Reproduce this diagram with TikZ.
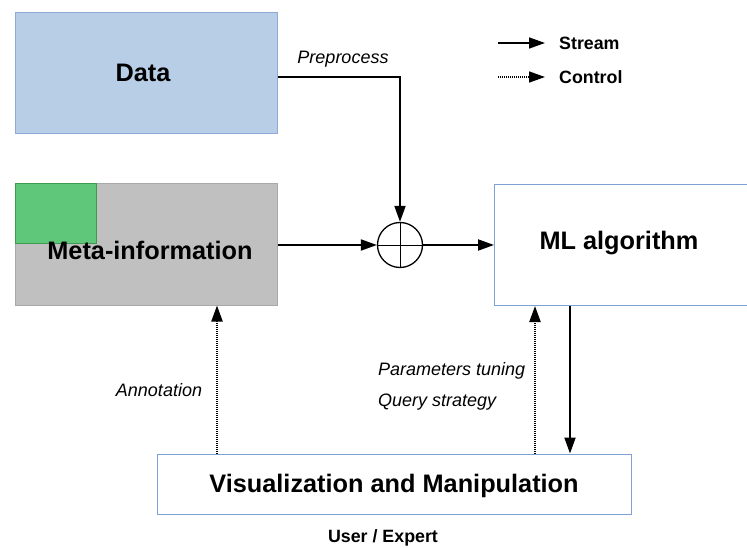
\documentclass[tikz,border=0pt]{standalone}
\usepackage{fontspec}
\setmainfont{Liberation Sans}
\usetikzlibrary{arrows.meta}
\definecolor{datafill}{HTML}{B8CEE6}
\definecolor{databorder}{HTML}{8FAAD4}
\definecolor{metafill}{HTML}{C0C0C0}
\definecolor{metaborder}{HTML}{A8A8A8}
\definecolor{greenfill}{HTML}{5EC77A}
\definecolor{greenborder}{HTML}{3F9A50}
\definecolor{boxborder}{HTML}{7FA0D4}
\tikzset{
  title/.style={font=\bfseries\fontsize{25.3}{29}\selectfont},
  box/.style={draw, line width=1pt, inner sep=0pt, minimum width=262pt, minimum height=121pt, title},
  stream/.style={line width=2pt, -{Triangle[length=16pt,width=11pt]}},
  control/.style={line width=2.2pt, dash pattern=on 1pt off 1pt, -{Triangle[length=16pt,width=11pt]}},
  lab/.style={font=\itshape\fontsize{18}{21}\selectfont, inner sep=0pt},
  leg/.style={font=\bfseries\fontsize{17.8}{21}\selectfont, inner sep=0pt, anchor=west},
}
\begin{document}
\begin{tikzpicture}[x=1pt,y=-1pt]
\useasboundingbox (0,0) rectangle (747,548);
\begin{scope}
\clip (0,0) rectangle (747,548);
% boxes
\node[box, fill=datafill, draw=databorder] (data) at (146,73.5) {};
\node[title] (datatxt) at (143,73) {Data};
\node[box, fill=metafill, draw=metaborder] (meta) at (146,244.5) {};
\node[draw=greenborder, fill=greenfill, line width=1pt, minimum width=81pt, minimum height=60pt, inner sep=0pt, anchor=north west] (green) at (meta.north west) {};
\node[title] (metatxt) at (150,250) {Meta-information};
\node[box, fill=white, draw=boxborder, minimum width=262pt, anchor=north west] (ml) at (494,184) {};
\node[title] (mltxt) at (619,243) {ML algorithm};
\node[box, fill=white, draw=boxborder, minimum width=474pt, minimum height=60pt] (vis) at (394,484) {};
\node[title] (vistxt) at (394,486) {Visualization and Manipulation};
\end{scope}
% sum junction
\node[circle, draw, line width=1.3pt, minimum size=45pt, inner sep=0pt] (sum) at (400,245) {};
\draw[line width=0.9pt] (sum.north) -- (sum.south) (sum.west) -- (sum.east);
% connectors
\draw[stream] (data.east |- 0,77) -| (sum.north);
\draw[stream] (meta.east |- sum.west) -- (sum.west);
\draw[stream] (sum.east) -- (ml.west |- sum.east);
\draw[stream] (ml.south -| 570,0) -- (vis.north -| 570,0);
\draw[control] (vis.north -| 217,0) -- (meta.south -| 217,0);
\draw[control] (vis.north -| 535,0) -- (ml.south -| 535,0);
% labels
\node[lab] (pre) at (343,59) {Preprocess};
\node[lab] (ann) at (159,390) {Annotation};
\node[lab, anchor=west] (ptune) at (378,371) {Parameters tuning};
\node[lab, anchor=west] (qs) at (378,402) {Query strategy};
\node[leg, anchor=center] (user) at (383,538) {User / Expert};
% legend
\coordinate (l1a) at (498,43);
\coordinate (l1b) at (545,43);
\coordinate (l2a) at (498,77);
\coordinate (l2b) at (545,77);
\draw[stream, line width=1.6pt] (l1a) -- (l1b);
\draw[control, line width=1.6pt] (l2a) -- (l2b);
\node[leg] (ls) at (559,43) {Stream};
\node[leg] (lc) at (559,77) {Control};
\end{tikzpicture}
\end{document}
